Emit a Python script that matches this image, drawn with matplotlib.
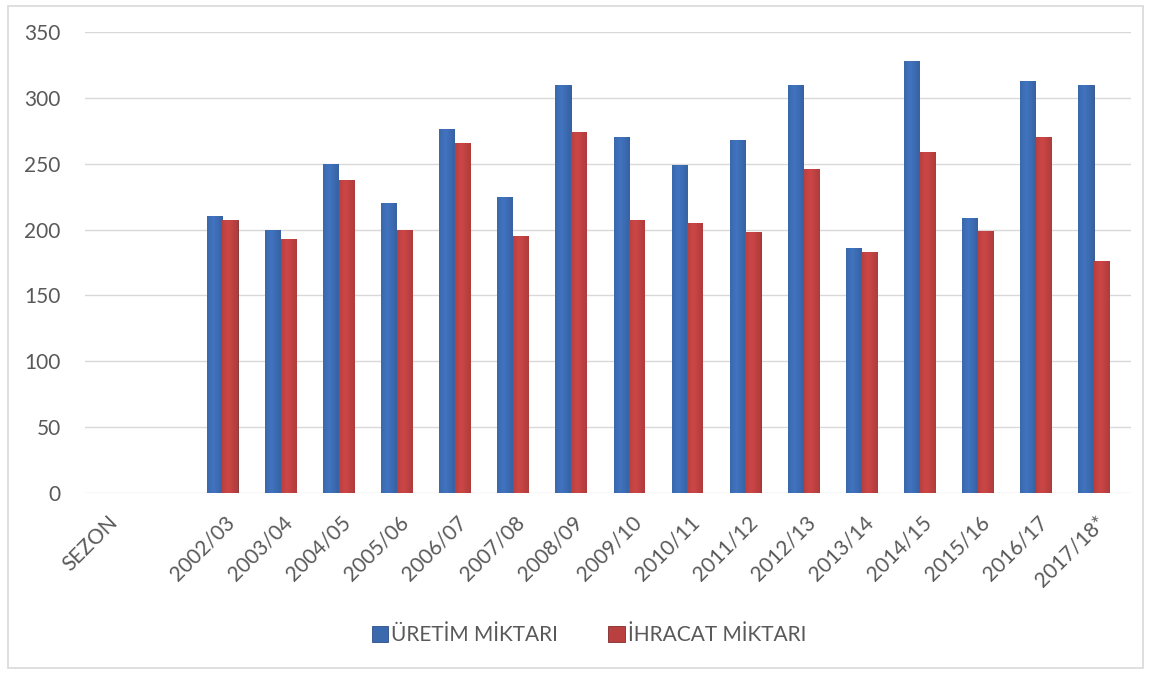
import matplotlib
matplotlib.use("Agg")
import matplotlib.pyplot as plt
import numpy as np
from matplotlib.patches import Rectangle

categories = ["SEZON", "", "2002/03", "2003/04", "2004/05", "2005/06", "2006/07", "2007/08",
              "2008/09", "2009/10", "2010/11", "2011/12", "2012/13", "2013/14", "2014/15",
              "2015/16", "2016/17", "2017/18*"]
uretim = [np.nan, np.nan, 210, 200, 250, 220, 276, 225, 310, 270, 249, 268, 310, 186, 328, 209, 313, 310]
ihracat = [np.nan, np.nan, 207, 193, 238, 200, 266, 195, 274, 207, 205, 198, 246, 183, 259, 199, 270, 176]
series_names = ["ÜRETİM MİKTARI", "İHRACAT MİKTARI"]
yticks = [0, 50, 100, 150, 200, 250, 300, 350]

plt.rcParams['font.family'] = ['Lato', 'DejaVu Sans']
fig = plt.figure(figsize=(11.51, 6.77), dpi=100)
W, H = 1151, 677
ax = fig.add_axes([85 / W, 1 - 493 / H, (1131 - 85) / W, (493 - 32) / H])

x = np.arange(len(categories))
bw = 0.26
blue = "#3B69AE"
red = "#B9403F"
b1 = ax.bar(x - bw / 2 - 0.005, uretim, width=bw, color=blue, edgecolor="#2A4E86", linewidth=0.6,
            label=series_names[0], zorder=3)
b2 = ax.bar(x + bw / 2 + 0.005, ihracat, width=bw, color=red, edgecolor="#7E2A2B", linewidth=0.6,
            label=series_names[1], zorder=3)

# cylinder-like shading
grad = np.linspace(0, 1, 64)
shade = 1 - 0.7 * np.abs(grad - 0.4) ** 1.1
for bars, base in ((b1, np.array([0.23, 0.41, 0.68])), (b2, np.array([0.73, 0.25, 0.25]))):
    for r in bars:
        h = r.get_height()
        if not np.isfinite(h):
            continue
        img = (base[None, None, :] * (0.68 + 0.42 * shade)[None, :, None]).clip(0, 1)
        im = ax.imshow(img, extent=[r.get_x(), r.get_x() + r.get_width(), 0, h],
                       aspect="auto", zorder=3.5, interpolation="bilinear")
        im.set_clip_path(r)

ax.set_xlim(-0.36, 17.64)
ax.set_ylim(0, 350)
ax.set_yticks(yticks)
ax.set_xticks(x)
ax.set_xticklabels(categories, rotation=45, ha="right", rotation_mode="anchor")
ax.tick_params(axis="both", length=0, colors="#595959", labelsize=15)
ax.tick_params(axis="x", pad=14)
ax.tick_params(axis="y", pad=17.5)
for lbl in ax.get_xticklabels():
    lbl.set_transform(lbl.get_transform() + matplotlib.transforms.ScaledTranslation(2 / 100, 0, fig.dpi_scale_trans))
ax.grid(axis="y", color="#D9D9D9", linewidth=1.0, zorder=0)
for s in ax.spines.values():
    s.set_visible(False)
ax.set_axisbelow(True)

fig.legend(handles=[b1, b2], labels=series_names, loc="center", bbox_to_anchor=(589 / W, 1 - 635 / H),
           ncol=2, frameon=False, fontsize=15, labelcolor="#595959", handlelength=0.8,
           handleheight=0.8, handletextpad=0.15, columnspacing=2.4)

fig.patches.append(Rectangle((8 / W, 1 - 668 / H), (1143 - 8) / W, (668 - 6) / H,
                             transform=fig.transFigure, fill=False, edgecolor="#D9D9D9", linewidth=1.2))
fig.savefig("out.png", dpi=100)
